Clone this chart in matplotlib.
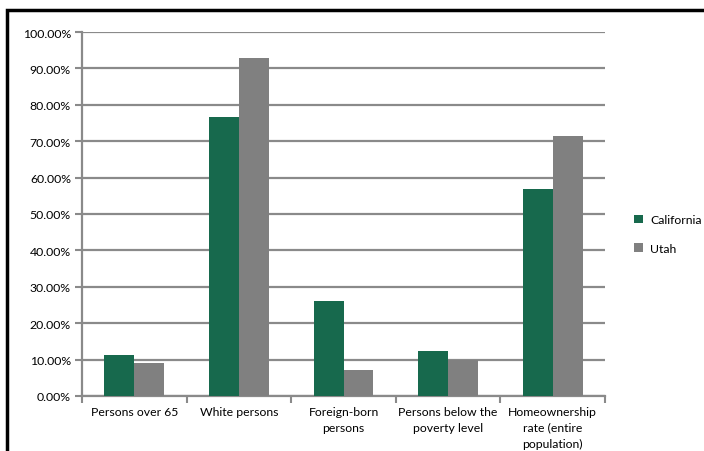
import numpy as np
import matplotlib.pyplot as plt
from matplotlib.patches import Rectangle

# Categories and values (percent)
categories = ["Persons over 65", "White persons", "Foreign-born\npersons",
              "Persons below the\npoverty level", "Homeownership\nrate (entire\npopulation)"]
california = [11.2, 76.6, 26.2, 12.4, 56.9]
utah = [9.0, 92.9, 7.1, 9.9, 71.4]

green = "#17694D"
gray = "#808080"
axis_gray = "#8A8A8A"

plt.rcParams['font.family'] = ['Lato', 'DejaVu Sans']

fig = plt.figure(figsize=(7.04, 4.52), dpi=100)
ax = fig.add_axes([82/704, 1 - 397/452, (605 - 82)/704, (397 - 33)/452])

x = np.arange(len(categories))
w = 1 / 3.5
ax.bar(x - w/2, california, w, color=green, label="California", zorder=3)
ax.bar(x + w/2, utah, w, color=gray, label="Utah", zorder=3)

ax.set_xlim(-0.5, len(categories) - 0.5)
ax.set_ylim(0, 100)
ax.set_yticks(np.arange(0, 101, 10))
ax.set_yticklabels([f"{v:.2f}%" for v in np.arange(0, 101, 10)], fontsize=8.8)
ax.yaxis.grid(True, color=axis_gray, linewidth=1.6, zorder=0)

# category labels sit between boundary ticks
ax.set_xticks(np.arange(-0.5, len(categories), 1.0))
ax.set_xticklabels([])
ax.set_xticks(x, minor=True)
ax.set_xticklabels(categories, minor=True, fontsize=8.8, linespacing=1.55, va="top")
ax.tick_params(axis="x", which="minor", length=0, pad=7)
ax.tick_params(axis="x", which="major", length=5, width=1.5, color=axis_gray, direction="out")
ax.tick_params(axis="y", length=5, width=1.5, color=axis_gray, pad=3)

for s in ["top", "right"]:
    ax.spines[s].set_visible(False)
for s in ["left", "bottom"]:
    ax.spines[s].set_color(axis_gray)
    ax.spines[s].set_linewidth(1.6)

ax.legend(loc="center left", bbox_to_anchor=(1.035, 0.445), frameon=False,
          fontsize=8.8, handlelength=0.7, handleheight=0.7, labelspacing=1.45,
          handletextpad=0.6)

# outer frame (cropped at right and bottom)
fig.patches.append(Rectangle((7/704, -0.1), 1.2, 1 - 11/452 + 0.1,
                             transform=fig.transFigure, fill=False,
                             edgecolor="black", linewidth=2.5))

fig.savefig("out.png", dpi=100)
